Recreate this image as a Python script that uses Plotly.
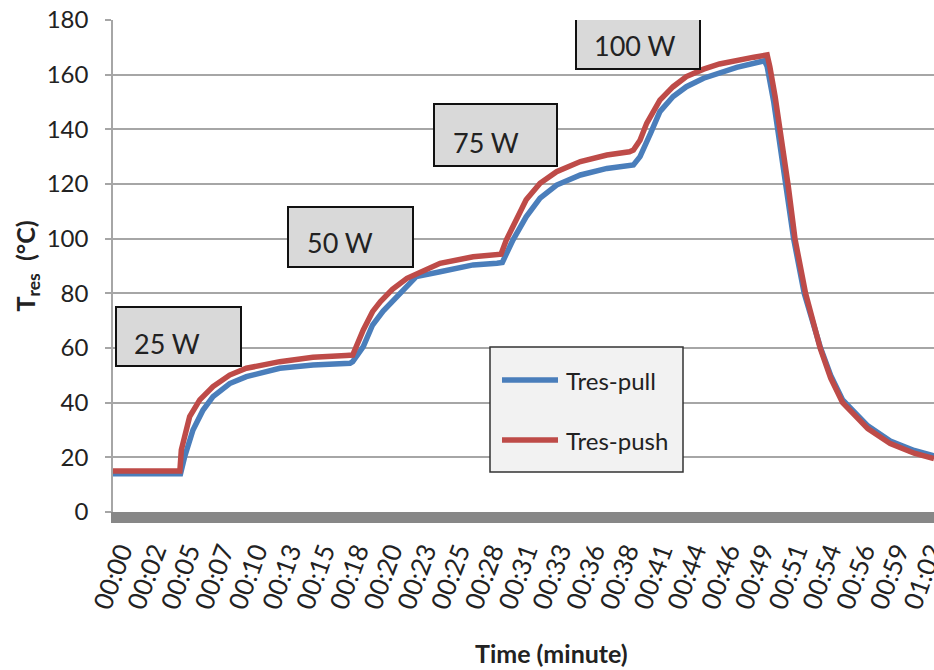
import numpy as np
import plotly.graph_objects as go

# ---- data (minutes, °C) ----
time_pull = [0, 5.1, 5.41, 6.04, 6.8, 7.55, 8.81, 10.07, 12.59, 15.1, 17.9,
             18.1, 18.9, 19.6, 20.4, 21.3, 22.9, 24.7, 27.2, 29.0, 29.4,
             30.2, 31.2, 32.25, 33.5, 35.3, 37.3, 39.3,
             39.8, 40.6, 41.3, 42.3, 43.3, 44.6, 45.8, 47.1, 49.2,
             49.4, 49.9, 50.4, 50.9, 51.4, 52.2, 53.4, 54.2, 55.1, 57.0, 58.7, 60.5, 62.0]
temp_pull = [14, 14, 20.2, 30, 37.3, 42.2, 47, 49.5, 52.6, 53.8, 54.4,
             55, 60.5, 68.4, 73.5, 78, 86.1, 87.9, 90.4, 91, 91.3,
             99.5, 108, 114.8, 119.6, 123.3, 125.7, 127,
             130, 138.6, 146.5, 152, 155.6, 158.7, 160.7, 162.7, 165.1,
             163, 150, 134, 118, 100, 80, 60.5, 50, 41, 31.5, 26, 22.5, 20.5]

time_push = [0, 5.05, 5.16, 5.79, 6.55, 7.55, 8.81, 10.07, 12.59, 15.1, 17.6,
             18.1, 18.9, 19.6, 20.2, 21.1, 22.2, 24.7, 27.2, 29.0, 29.3,
             29.7, 30.5, 31.2, 32.25, 33.5, 35.3, 37.3, 39.0, 39.3,
             39.8, 40.3, 41.3, 42.3, 43.3, 44.6, 45.8, 47.1, 48.4, 49.4,
             49.6, 50.0, 50.5, 51.0, 51.5, 52.3, 53.4, 54.2, 55.1, 57.0, 58.7, 60.5, 62.0]
temp_push = [15, 15, 22.7, 34.9, 41, 45.9, 50.1, 52.6, 55, 56.6, 57.3,
             57.4, 66.6, 73.3, 77, 81.5, 85.5, 91, 93.4, 94, 94.3,
             99.5, 106.8, 114.2, 120.3, 124.5, 128.2, 130.6, 131.8, 132.4,
             136, 142.2, 150.7, 155.6, 159.3, 162, 163.9, 165.4, 166.4, 167.2,
             163, 152, 136, 119, 100, 80, 60, 49, 40, 30.5, 25, 21.5, 19.5]

tick_labels = ["00:00", "00:02", "00:05", "00:07", "00:10", "00:13", "00:15",
               "00:18", "00:20", "00:23", "00:25", "00:28", "00:31", "00:33",
               "00:36", "00:38", "00:41", "00:44", "00:46", "00:49", "00:51",
               "00:54", "00:56", "00:59", "01:02"]
last_tick_min = 61.17

power_labels = ["25 W", "50 W", "75 W", "100 W"]
series_names = ["Tres-pull", "Tres-push"]
series_colors = ["#4a7ebb", "#be4b48"]

FONT = "Lato"
TXT = "#222222"
x_max = 62.0
tick_vals = list(np.linspace(0, last_tick_min, len(tick_labels)))

fig = go.Figure()
fig.add_trace(go.Scatter(x=time_pull, y=temp_pull, mode="lines", name=series_names[0],
                         line=dict(color=series_colors[0], width=5.5), showlegend=False))
fig.add_trace(go.Scatter(x=time_push, y=temp_push, mode="lines", name=series_names[1],
                         line=dict(color=series_colors[1], width=5.5), showlegend=False))

# ---- layout helpers (pixel -> axis/paper coords) ----
L, R, T, B = 113, 934, 20, 512
def mx(px):
    return (px - L) / (R - L) * x_max
def dy(py):
    return (B - py) / (B - T) * 180.0
def pxp(px):
    return (px - L) / (R - L)
def pyp(py):
    return (B - py) / (B - T)

boxes = [  # (x0, y0, x1, y1) in pixels, text centre px
    ((116, 307, 241, 366), (167, 343)),
    ((288, 207, 413, 267), (340, 242)),
    ((434, 104, 557, 166), (486, 142)),
    ((576, 9, 700, 69), (635, 45)),
]
for (b, c), lab in zip(boxes, power_labels):
    fig.add_shape(type="rect", xref="x", yref="y",
                  x0=mx(b[0]), x1=mx(b[2]), y0=dy(b[3]), y1=dy(b[1]),
                  fillcolor="#d9d9d9", line=dict(color="#111111", width=2), layer="above")
    fig.add_annotation(x=mx(c[0]), y=dy(c[1]), xref="x", yref="y", text=lab,
                       showarrow=False, font=dict(family=FONT, size=27, color=TXT),
                       xanchor="center", yanchor="middle")

# ---- legend box drawn like the reference ----
fig.add_shape(type="rect", xref="paper", yref="paper",
              x0=pxp(490), x1=pxp(683), y0=pyp(472), y1=pyp(347),
              fillcolor="#f2f2f2", line=dict(color="#333333", width=1.5), layer="above")
for i, (nm, col) in enumerate(zip(series_names, series_colors)):
    yy = pyp(380 + 60 * i)
    fig.add_shape(type="line", xref="paper", yref="paper",
                  x0=pxp(502), x1=pxp(558), y0=yy, y1=yy,
                  line=dict(color=col, width=5.5), layer="above")
    fig.add_annotation(x=pxp(564), y=yy, xref="paper", yref="paper", text=nm,
                       showarrow=False, xanchor="left", yanchor="middle",
                       font=dict(family=FONT, size=24, color=TXT))

# x-axis title placed as in the reference (slightly right of centre)
fig.add_annotation(x=pxp(551), y=pyp(653), xref="paper", yref="paper",
                   text="<b>Time (minute)</b>", showarrow=False,
                   xanchor="center", yanchor="middle",
                   font=dict(family=FONT, size=25, color=TXT))

fig.update_layout(
    width=934, height=670,
    margin=dict(l=L, r=934 - R, t=T, b=670 - B, autoexpand=False),
    paper_bgcolor="white", plot_bgcolor="white",
    font=dict(family=FONT, color=TXT),
    showlegend=False,
)

fig.update_xaxes(
    range=[0, x_max], tickmode="array", tickvals=tick_vals, ticktext=tick_labels,
    tickangle=-70, tickfont=dict(family=FONT, size=26, color=TXT),
    ticklabelshift=8, ticklabelstandoff=3, ticklabeloverflow="allow",
    automargin=False,
    showgrid=False, zeroline=False,
    showline=True, linecolor="#878787", linewidth=11,
    ticks="",
)
fig.update_yaxes(
    range=[0, 180], tickmode="array", tickvals=list(range(0, 181, 20)),
    tickfont=dict(family=FONT, size=24, color=TXT),
    showgrid=True, gridcolor="#a6a6a6", gridwidth=2, zeroline=False,
    showline=True, linecolor="#a6a6a6", linewidth=1.5,
    ticks="outside", ticklen=6, tickcolor="#a6a6a6", tickwidth=1.5,
    ticklabelstandoff=12, automargin=False,
    title=dict(text="<b>T<sub>res</sub>  (°C)</b>", font=dict(family=FONT, size=25, color=TXT), standoff=4),
)

fig.write_html("out.html")
